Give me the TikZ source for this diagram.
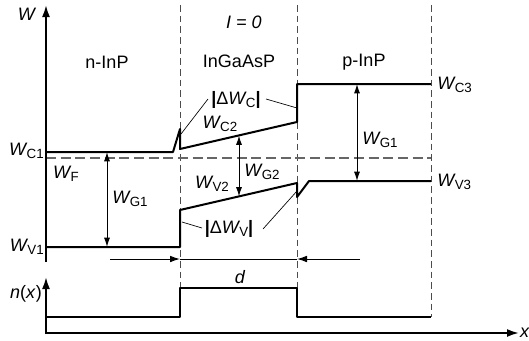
\documentclass[tikz,border=0pt]{standalone}
\usepackage{fontspec}
\setmainfont{Liberation Sans}
\usetikzlibrary{arrows.meta}
\newcommand\Wl[1]{\textit{W}\kern-0.05em\raisebox{-0.3ex}{\fontsize{10}{11}\selectfont #1}}
\newcommand\bbar{\textbf{|}}
\begin{document}
\begin{tikzpicture}[x=0.75pt,y=-0.75pt,
  font=\fontsize{13.5}{16}\selectfont,
  band/.style={line width=1.5pt, line join=round},
  leader/.style={line width=0.5pt},
  dim/.style={line width=0.75pt, {Latex[length=7pt,width=4.5pt]}-{Latex[length=7pt,width=4.5pt]}},
  dline/.style={line width=0.75pt},
  dtip/.style={line width=0.75pt, -{Latex[length=7.5pt,width=5pt]}},
  axis/.style={line width=1.5pt, -{Latex[length=9pt,width=6pt]}},
  guide/.style={line width=0.6pt, black!70, dash pattern=on 5pt off 3pt},
  fermi/.style={line width=1.2pt, black!60, dash pattern=on 7.5pt off 3.5pt},
  lbl/.style={inner sep=0pt}]
\useasboundingbox (0,0) rectangle (529,340);

% coordinates
\coordinate (o) at (46,262);
\coordinate (wtop) at (46,5);
\coordinate (nbot) at (46,334);
\coordinate (ntop) at (46,277);
\coordinate (xo) at (46,333);
\coordinate (xend) at (519,333);

% guides
\draw[guide] (180,5) -- (180,288);
\draw[guide] (297,5) -- (297,288);
\draw[guide] (431,5) -- (431,317);
\draw[fermi] (46,158) -- (431,158);

% axes
\draw[axis] (o) -- (wtop);
\draw[axis] (nbot) -- (ntop);
\draw[axis] (xo) -- (xend);

% conduction band
\draw[band] (46,152) -- (173,152) -- (180,129) -- (180,149) -- (297,122) -- (297,84) -- (431,84);
% valence band
\draw[band] (46,247) -- (180,247) -- (180,210) -- (297,183) -- (297,197) -- (309,181) -- (431,181);
% n(x)
\draw[band] (46,317) -- (180,317) -- (180,288) -- (297,288) -- (297,317) -- (431,317);

% dimension arrows
\draw[dim] (107,152) -- (107,247);
\draw[dim] (357,84) -- (357,181);
\draw[dim] (239,135.5) -- (239,196.5);

% d
\draw[dtip] (110,259) -- (180,259);
\draw[dtip] (360,259) -- (297,259);
\draw[dline] (180,259) -- (297,259);

% leaders
\draw[leader] (181,134) -- (208,99);
\draw[leader] (266,99) -- (297,108);
\draw[leader] (182,222) -- (202,228);
\draw[leader] (263,229) -- (297,191);

% labels
\node[lbl] (lW) at (27,14) {\textit{W}};
\node[lbl] (lnx) at (26,294) {\textit{n}(\textit{x})};
\node[lbl] (lx) at (525,333) {\textit{x}};
\node[lbl] (lI) at (244,22) {\textit{I = 0}};
\node[lbl] (lnInP) at (107,62) {n-InP};
\node[lbl] (lInGaAsP) at (239,61) {InGaAsP};
\node[lbl] (lpInP) at (364,62) {p-InP};
\node[lbl, anchor=east] (lC1) at (44,151) {\Wl{C1}};
\node[lbl, anchor=east] (lV1) at (44,247) {\Wl{V1}};
\node[lbl] (lF) at (66,174) {\Wl{F}};
\node[lbl] (lG1a) at (130,199) {\Wl{G1}};
\node[lbl] (lG1b) at (380,140) {\Wl{G1}};
\node[lbl, anchor=west] (lC3) at (437,85) {\Wl{C3}};
\node[lbl, anchor=west] (lV3) at (437,182) {\Wl{V3}};
\node[lbl] (lC2) at (220,124) {\Wl{C2}};
\node[lbl] (lV2) at (212,184) {\Wl{V2}};
\node[lbl] (lG2) at (262,172) {\Wl{G2}};
\node[lbl] (ldC) at (236,100) {\bbar Δ\Wl{C}\bbar};
\node[lbl] (ldV) at (229,229) {\bbar Δ\Wl{V}\bbar};
\node[lbl] (ld) at (240,277) {\textit{d}};
\end{tikzpicture}
\end{document}
